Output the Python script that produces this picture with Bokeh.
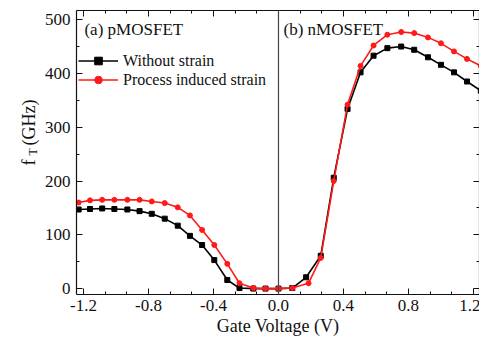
import numpy as np
from bokeh.plotting import figure
from bokeh.layouts import row
from bokeh.core.properties import value
from bokeh.models import (Range1d, LinearAxis, FixedTicker, NumeralTickFormatter,
                          CustomJSTickFormatter, Span, Label, Legend, LegendItem)
from bokeh.embed import file_html
from bokeh.resources import INLINE

# ---- data ----
black_x = [-1.23, -1.16, -1.085, -1.01, -0.93, -0.855, -0.78, -0.70, -0.62, -0.545,
           -0.47, -0.395, -0.315, -0.24, -0.155, -0.08, 0.0, 0.085, 0.17, 0.26,
           0.34, 0.425, 0.505, 0.585, 0.67, 0.755, 0.835, 0.92, 1.0, 1.08, 1.16, 1.245]
black_y = [147, 148, 149, 148, 147, 144, 139, 130, 117, 98,
           81, 53, 16, 1, 0, 0, 0, 1, 21, 61,
           206, 334, 402, 433, 447, 450, 444, 430, 416, 402, 385, 368]

red_x = [-1.23, -1.16, -1.085, -1.01, -0.93, -0.855, -0.78, -0.70, -0.62, -0.545,
         -0.47, -0.395, -0.315, -0.24, -0.155, -0.08, 0.0, 0.085, 0.185, 0.26,
         0.34, 0.425, 0.505, 0.585, 0.67, 0.755, 0.835, 0.92, 1.0, 1.08, 1.16, 1.245]
red_y = [160, 164, 165, 165, 165, 165, 162, 159, 151, 136,
         109, 81, 46, 10, 1, 0, 0, 1, 10, 57,
         200, 342, 414, 452, 472, 477, 475, 467, 456, 441, 427, 414]

x_ticks = [-1.2, -0.8, -0.4, 0.0, 0.4, 0.8, 1.2]
y_ticks = [0, 100, 200, 300, 400, 500]
series_names = ["Without strain", "Process induced strain"]
panel_labels = ["(a) pMOSFET", "(b) nMOSFET"]
y_title_parts = ["f", "T", "(GHz)"]

SERIF = "Liberation Serif"
SIDE_W = 40

p = figure(frame_width=403, frame_height=284, width=479 - SIDE_W, height=339,
           x_range=Range1d(-1.243, 1.237), y_range=Range1d(-11, 517),
           output_backend="svg", toolbar_location=None,
           min_border_left=76 - SIDE_W, min_border_right=1, min_border_top=10,
           min_border_bottom=45)
p.background_fill_color = "white"
p.border_fill_color = "white"
p.outline_line_color = None
p.xgrid.visible = False
p.ygrid.visible = False

x_minor = list(np.round(np.arange(-1.2, 1.2001, 0.4 / 3), 4))
y_minor = list(range(0, 501, 50))

def style_axis(ax, ticker, show_labels):
    ax.ticker = ticker
    ax.axis_line_color = "#111111"
    ax.axis_line_width = 1.2
    ax.major_tick_in = 6
    ax.major_tick_out = 0
    ax.minor_tick_in = 3
    ax.minor_tick_out = 0
    ax.major_tick_line_color = "#111111"
    ax.minor_tick_line_color = "#111111"
    ax.major_label_text_font = SERIF
    ax.major_label_text_font_size = "17px"
    ax.major_label_text_color = "#111111"
    if not show_labels:
        ax.formatter = CustomJSTickFormatter(code="return ''")
        ax.major_label_standoff = 0

xt = FixedTicker(ticks=x_ticks, minor_ticks=x_minor)
yt = FixedTicker(ticks=y_ticks, minor_ticks=y_minor)

style_axis(p.xaxis[0], xt, True)
p.xaxis[0].formatter = NumeralTickFormatter(format="0.0")
p.xaxis[0].major_label_standoff = 5
p.xaxis[0].axis_label = "Gate Voltage (V)"
p.xaxis[0].axis_label_text_font = SERIF
p.xaxis[0].axis_label_text_font_style = "normal"
p.xaxis[0].axis_label_text_font_size = "18px"
p.xaxis[0].axis_label_text_color = "#111111"
p.xaxis[0].axis_label_standoff = 2

style_axis(p.yaxis[0], yt, True)
p.yaxis[0].major_label_standoff = 6

top = LinearAxis()
style_axis(top, FixedTicker(ticks=x_ticks, minor_ticks=x_minor), False)
p.add_layout(top, "above")
right = LinearAxis()
style_axis(right, FixedTicker(ticks=y_ticks, minor_ticks=y_minor), False)
p.add_layout(right, "right")

p.add_layout(Span(location=0, dimension="height", line_color="#444444", line_width=1.2))

bl = p.line(black_x, black_y, line_color="black", line_width=1.6)
bs = p.scatter(black_x, black_y, marker="square", size=5, fill_color="black", line_color="black")
rl = p.line(red_x, red_y, line_color="#ff1a1a", line_width=1.6)
rs = p.scatter(red_x, red_y, marker="circle", size=5, fill_color="#ff1a1a", line_color="#ff1a1a")

legend = Legend(items=[LegendItem(label=series_names[0], renderers=[bl, bs]),
                       LegendItem(label=series_names[1], renderers=[rl, rs])],
                location=(2, 205), orientation="vertical")
legend.background_fill_alpha = 0
legend.border_line_color = None
legend.padding = 0
legend.margin = 0
legend.spacing = 0
legend.glyph_width = 40
legend.glyph_height = 19
legend.label_height = 19
legend.label_standoff = 5
legend.label_text_font = SERIF
legend.label_text_font_size = "16px"
legend.label_text_color = "#111111"
p.add_layout(legend, "center")

for txt, xx in zip(panel_labels, [-1.194, 0.031]):
    p.add_layout(Label(x=xx, y=481, text=txt, text_font=SERIF, text_font_size="17px",
                       text_color="#111111", text_baseline="alphabetic", text_align="left"))

# ---- side strip holding the rotated y-axis title  f_T (GHz) ----
side = figure(width=SIDE_W, height=339, x_range=Range1d(0, SIDE_W), y_range=Range1d(0, 339),
              output_backend="svg", toolbar_location=None,
              min_border=0, min_border_left=0, min_border_right=0,
              min_border_top=0, min_border_bottom=0)
side.axis.visible = False
side.grid.visible = False
side.outline_line_color = None
side.background_fill_color = "white"
side.border_fill_color = "white"
# page pixel positions (x of baseline, y from top where text starts)
part_px = [28, 32, 28]
part_py = [185, 173, 161]
part_fs = ["18px", "12px", "18px"]
for txt, px, py, fs in zip(y_title_parts, part_px, part_py, part_fs):
    side.text(x=[px], y=[339 - py], text=[txt], angle=np.pi / 2,
              text_font=value(SERIF), text_font_size=value(fs), text_color="#111111",
              text_baseline="alphabetic", text_align="left")

layout = row(side, p)
open("out.html", "w").write(file_html(layout, INLINE))
